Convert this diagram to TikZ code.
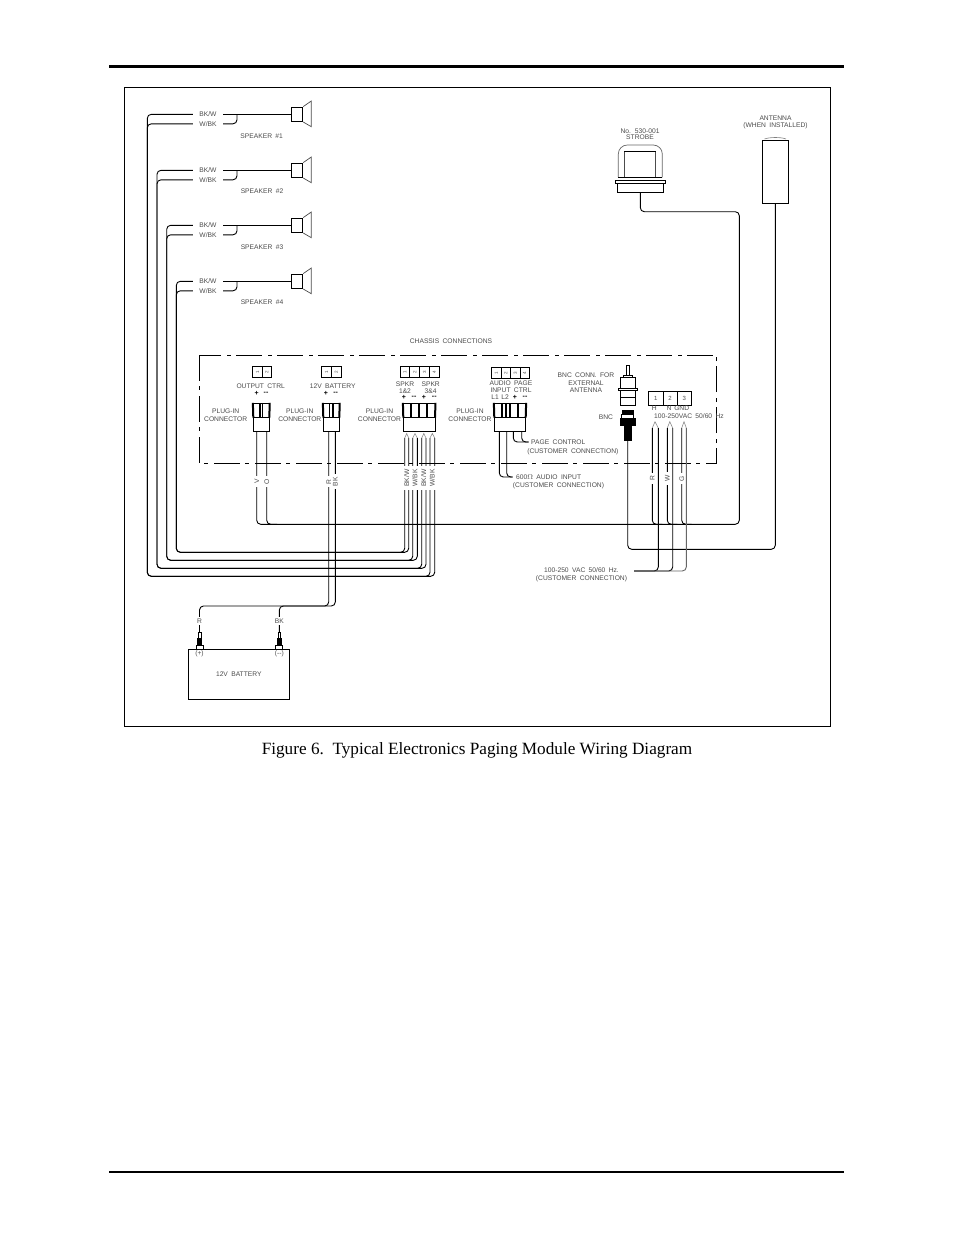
\documentclass[tikz,border=0pt]{standalone}
\usepackage{fontspec}
\setmainfont{Liberation Serif}
\newfontfamily\cadfont[WordSpace=1.8]{Liberation Sans}

\tikzset{
wire/.style={line width=0.9pt, black, rounded corners=4pt},
thinwire/.style={line width=0.6pt, black!45},
tag/.style={font=\cadfont\fontsize{6.7}{8}\selectfont, text=black!70, inner sep=0pt, align=center},
tagwire/.style={tag, fill=white, rotate=90, inner xsep=3pt, inner ysep=1.2pt},
sign/.style={font=\cadfont\bfseries\fontsize{7}{8}\selectfont, inner sep=0pt},
cell/.style={draw, line width=0.8pt, inner sep=0pt, font=\cadfont\fontsize{4.5}{5}\selectfont, text=black!70},
plug/.style={draw, line width=0.9pt, inner sep=0pt},
solid block/.style={draw, fill=black, inner sep=0pt},
box/.style={draw, line width=0.9pt, inner sep=0pt}
}

\begin{document}
\begin{tikzpicture}[x=1pt, y=-1pt]
\useasboundingbox[fill=white] (0,0) rectangle (954,1235);

% page rules and frame
\coordinate (rule-a) at (109,66.5);
\coordinate (rule-b) at (844,66.5);
\coordinate (rule-c) at (109,1172);
\coordinate (rule-d) at (844,1172);
\draw[line width=2.2pt] (rule-a) -- (rule-b);
\draw[line width=1.8pt] (rule-c) -- (rule-d);
\draw[line width=0.9pt] (124,87) rectangle (830,726);
\node[inner sep=0pt, font=\fontsize{17.2}{19}\selectfont] (caption) at (477,750.5) {Figure 6.\ \ Typical Electronics Paging Module Wiring Diagram};

% chassis
\draw[line width=0.9pt, dash pattern=on 26pt off 5pt on 4pt off 6pt] (199.3,355) rectangle (716.7,463.3);
\node[tag] (chassis) at (451,341) {CHASSIS CONNECTIONS};

% spkr wires legs
\foreach \n/\lx in {1/404.7,2/408.7,3/412.7,4/417.3,5/421.7,6/426,7/430,8/434.7}
  \coordinate (leg\n) at (\lx,438);
\foreach \n/\lx in {1/406.7,2/415,3/423.8,4/432.3}
  \coordinate (apex\n) at (\lx,433.5);

% speakers
\foreach \i/\sy/\vx/\by/\la/\lb in {1/114.3/147.3/576.3/7/8, 2/170.3/157/568.3/5/6, 3/225.3/166.7/560.3/3/4, 4/281.3/176.3/552.3/1/2}{
  \node[tag, minimum width=30pt] (bkw\i) at (208,\sy) {BK/W};
  \node[tag, minimum width=30pt] (wbk\i) at (208,\sy+9.5) {W/BK};
  \node[box, minimum width=11.5pt, minimum height=14.5pt] (spk\i) at (297,\sy) {};
  \draw[line width=0.7pt, black!70] (spk\i.north east) -- (311.3,\sy-13.3) -- (311.3,\sy+12.4) -- (spk\i.south east);
  \coordinate (join\i) at (237,\sy);
  \draw[wire] (bkw\i.east) -- (spk\i.west);
  \draw[wire] (wbk\i.east) -| (join\i);
  \draw[wire] (bkw\i.west) -| (\vx,\by) -| (leg\la);
  \draw[wire] (wbk\i.west) -| (\vx,\by) -| (leg\lb);
}
\node[tag] (spk-a) at (261.7,136) {SPEAKER \#1};
\node[tag] (spk-b) at (262,191.3) {SPEAKER \#2};
\node[tag] (spk-c) at (262,246.7) {SPEAKER \#3};
\node[tag] (spk-d) at (262,302.3) {SPEAKER \#4};

\foreach \k/\a/\b in {1/1/2,2/3/4,3/5/6,4/7/8}
  \draw[thinwire] (leg\a) -- (apex\k) -- (leg\b);

% terminal strips
\foreach \n/\cx in {1/257.5,2/266.8}
  \node[cell, minimum width=9.5pt, minimum height=10.6pt] (tb-out\n) at (\cx,372) {\rotatebox{90}{\n}};
\foreach \n/\cx in {1/326.5,2/336.2}
  \node[cell, minimum width=9.7pt, minimum height=10.6pt] (tb-bat\n) at (\cx,372) {\rotatebox{90}{\n}};
\foreach \n/\cx in {1/404.9,2/414.7,3/424.5,4/434.4}
  \node[cell, minimum width=9.8pt, minimum height=10.6pt] (tb-spk\n) at (\cx,372) {\rotatebox{90}{\n}};
\foreach \n/\cx in {1/496.4,2/505.8,3/515.2,4/524.6}
  \node[cell, minimum width=9.4pt, minimum height=11pt] (tb-aud\n) at (\cx,372.8) {\rotatebox{90}{\n}};
\foreach \n/\cx in {1/655.8,2/670,3/684.2}
  \node[cell, minimum width=14.2pt, minimum height=14.7pt, font=\cadfont\fontsize{6}{7}\selectfont] (tb-ac\n) at (\cx,398.3) {\n};

\node[tag] (out-txt) at (260.7,386) {OUTPUT CTRL};
\node[tag] (bat-txt) at (332.7,386) {12V BATTERY};
\node[tag] (spk-txt1) at (405,387.5) {SPKR\\[-1pt]1\&2};
\node[tag] (spk-txt2) at (430.7,387.5) {SPKR\\[-1pt]3\&4};
\node[tag] (aud-txt) at (511,386.5) {AUDIO PAGE\\[-1pt]INPUT CTRL};
\foreach \n/\cx/\cy/\s in {a/256.7/393/+,b/266/393/--,c/326/393/+,d/335.7/393/--,e/404/397.7/+,f/414/397.7/--,g/424/397.7/+,h/434.3/397.7/--,i/515/397.5/+,j/525/397.5/--}
  \node[sign] (sign-\n) at (\cx,\cy) {\s};
\node[tag] (aud-l1) at (495,397.3) {L1};
\node[tag] (aud-l2) at (505,397.3) {L2};

\node[tag] (plug-a) at (225.7,415) {PLUG-IN\\CONNECTOR};
\node[tag] (plug-b) at (299.8,415) {PLUG-IN\\CONNECTOR};
\node[tag] (plug-c) at (379.5,415) {PLUG-IN\\CONNECTOR};
\node[tag] (plug-d) at (470,415) {PLUG-IN\\CONNECTOR};

% plug-in connectors
\node[plug, minimum width=16pt, minimum height=28pt] (conn-out) at (261.3,417.3) {};
\node[plug, minimum width=16pt, minimum height=28pt] (conn-bat) at (331.3,417.3) {};
\node[plug, minimum width=31.7pt, minimum height=28pt] (conn-spk) at (419.2,417.3) {};
\node[plug, minimum width=31.4pt, minimum height=28pt] (conn-aud) at (510,417.3) {};
\draw[line width=0.9pt] (253.3,417.7) -- (269.3,417.7);
\draw[line width=0.9pt] (323.3,417.7) -- (339.3,417.7);
\draw[line width=0.9pt] (403.3,417.7) -- (435,417.7);
\draw[line width=0.9pt] (494.3,417.7) -- (525.7,417.7);
\draw[line width=2pt] (conn-out.north west) -- (253.3,417.7);
\draw[line width=2pt] (conn-out.north east) -- (269.3,417.7);
\draw[line width=2pt] (conn-bat.north west) -- (323.3,417.7);
\draw[line width=2pt] (conn-bat.north east) -- (339.3,417.7);
\draw[line width=2pt] (conn-spk.north west) -- (403.3,417.7);
\draw[line width=2pt] (conn-spk.north east) -- (435,417.7);
\draw[line width=2pt] (conn-aud.north west) -- (494.3,417.7);
\draw[line width=2pt] (conn-aud.north east) -- (525.7,417.7);
\foreach \dx in {260,262.5,329.5,333,411,419,427,502,506,510,518}
  \draw[line width=1.2pt] (\dx,403.3) -- (\dx,417.7);

% strobe
\node[tag] (strobe-txt) at (640,134.2) {No. 530-001\\[-1.5pt]STROBE};
\node[box, minimum width=46pt, minimum height=9pt] (strobe) at (640.3,187.8) {};
\node[box, minimum width=50.7pt, minimum height=2.4pt] (strobe-rim) at (640.3,182.1) {};
\draw[line width=0.7pt, black!60, rounded corners=9pt] (618.3,177.3) -- (618.3,145) -- (662.3,145) -- (662.3,177.3);
\draw[line width=0.7pt, black!70] (624.3,177.3) -- (624.3,151);
\draw[line width=0.7pt, black!70] (655.7,177.3) -- (655.7,151);
\draw[line width=0.9pt] (624.3,151) -- (655.7,151);
\draw[line width=0.9pt] (618.3,177.3) -- (662.3,177.3);

% antenna
\node[tag] (ant-txt) at (775.5,122.5) {ANTENNA\\[-1.5pt](WHEN INSTALLED)};
\node[box, minimum width=26pt, minimum height=63.3pt] (ant) at (775.3,171.6) {};
\draw[line width=0.6pt, black!50] (764.5,139) .. controls (770,137) and (781,137) .. (786,139);

% bnc
\node[tag] (bnc-conn) at (586,382.7) {BNC CONN. FOR\\[-0.5pt]EXTERNAL\\[-0.5pt]ANTENNA};
\node[tag] (bnc-txt) at (606,417.3) {BNC};
\node[box, minimum width=2.6pt, minimum height=10pt] (bnc-pin) at (628,370) {};
\node[box, minimum width=9pt, minimum height=2.5pt] (bnc-neck) at (627.7,376.5) {};
\node[box, minimum width=14.3pt, minimum height=10.6pt] (bnc-top) at (627.8,383) {};
\node[box, minimum width=19pt, minimum height=2pt] (bnc-rim) at (627.8,389.3) {};
\node[box, minimum width=15pt, minimum height=7.4pt] (bnc-mid) at (627.5,394) {};
\node[box, minimum width=15pt, minimum height=7.3pt] (bnc-low) at (627.5,401.4) {};
\node[solid block, minimum width=11.5pt, minimum height=4.3pt] (bnc-cap) at (627.5,412.2) {};
\node[box, minimum width=11.5pt, minimum height=4pt] (bnc-ring) at (627.5,416.4) {};
\node[solid block, minimum width=14.5pt, minimum height=6.7pt] (bnc-nut) at (627.5,421.7) {};
\node[solid block, minimum width=7.7pt, minimum height=15pt] (bnc-tail) at (627.7,432.5) {};

% long runs
\coordinate (ant-low) at (775.3,549.3);
\coordinate (strobe-turn) at (739.3,211.7);
\coordinate (out-turn) at (256.7,524.3);
\coordinate (out-leg) at (266.7,431.3);
\coordinate (out-end) at (277,524.3);
\draw[wire] (bnc-tail.south) |- (ant-low) -- (ant.south);
\draw[wire] (strobe.south) |- (strobe-turn) |- (out-turn) -- (256.7,431.3);
\draw[wire] (out-leg) |- (out-end);

% output and battery leads
\node[tagwire] (lbl-v) at (256.7,481.7) {V};
\node[tagwire] (lbl-o) at (266.7,481.7) {O};

% ac wires
\foreach \k/\ax/\lx/\rx/\t in {1/655/652.3/658.3/R,2/669.8/667.3/672.7/W,3/684/681.7/686.3/G}{
  \coordinate (ac-apex\k) at (\ax,421.7);
  \coordinate (ac-l\k) at (\lx,428);
  \coordinate (ac-r\k) at (\rx,428);
  \draw[thinwire] (ac-l\k) -- (ac-apex\k) -- (ac-r\k);
  \coordinate (ac-end\k) at (\lx+10,524.3);
  \draw[wire] (ac-l\k) |- (ac-end\k);
  \node[tagwire] (ac-t\k) at (\lx,478.5) {\t};
}
\coordinate (ac-feed) at (634,571);
\draw[wire] (ac-r1) |- (ac-feed);
\draw[wire] (ac-r2) |- (ac-feed);
\draw[wire, black!60] (ac-r3) |- (ac-feed);
\node[tag] (ac-h) at (654.3,408.3) {H};
\node[tag] (ac-n) at (669,408.3) {N};
\node[tag] (ac-g) at (681.7,408.3) {GND};
\node[tag] (ac-v) at (689,416.2) {100-250VAC 50/60 Hz};
\node[tag] (ac-cust) at (581.5,575) {100-250 VAC 50/60 Hz.\\[-0.5pt](CUSTOMER CONNECTION)};

% audio and page
\coordinate (aud-a) at (499.3,431.3);
\coordinate (aud-b) at (506.7,431.3);
\coordinate (aud-c) at (513.3,431.3);
\coordinate (aud-d) at (521.7,431.3);
\coordinate (aud-out) at (512.5,477);
\coordinate (page-out) at (528.5,442);
\draw[wire] (aud-a) |- (aud-out);
\draw[wire] (aud-b) |- (aud-out);
\draw[wire] (aud-c) |- (page-out);
\draw[wire] (aud-d) |- (page-out);
\node[tag, anchor=west] (page-txt) at (531,442) {PAGE CONTROL};
\node[tag] (page-cust) at (572.8,452) {(CUSTOMER CONNECTION)};
\node[tag, anchor=west] (aud-txt2) at (516,476.7) {600\(\Omega\) AUDIO INPUT};
\node[tag] (aud-cust) at (558.5,486) {(CUSTOMER CONNECTION)};

% battery
\node[box, minimum width=101pt, minimum height=50pt, tag, draw, text=black!70] (bat) at (238.8,674.3) {12V BATTERY};
\node[box, minimum width=7.3pt, minimum height=4pt] (term-a) at (199.7,647.3) {};
\node[box, minimum width=7.3pt, minimum height=4pt] (term-b) at (279,647.3) {};
\node[tag] (term-a-t) at (199.5,653.5) {(+)};
\node[tag] (term-b-t) at (279.3,653.5) {(--)};
\node[solid block, minimum width=4pt, minimum height=6pt] (clip-a) at (199.5,641.5) {};
\node[solid block, minimum width=4pt, minimum height=6pt] (clip-b) at (279.3,641.5) {};
\node[box, line width=0.6pt, minimum width=2.7pt, minimum height=6pt] (lug-a) at (199.5,635.5) {};
\node[box, line width=0.6pt, minimum width=2.7pt, minimum height=6pt] (lug-b) at (279.3,635.5) {};
\coordinate (bat-a) at (328.7,431.3);
\coordinate (bat-b) at (335.3,431.3);
\coordinate (bat-turn) at (335.3,606);
\coordinate (bat-mid) at (279.3,606);
\draw[wire] (bat-b) -- (bat-turn) -| (lug-a.north);
\draw[wire] (bat-a) |- (bat-mid) -- (lug-b.north);
\node[tagwire] (lbl-r) at (328.7,481.7) {R};
\node[tagwire] (lbl-bk) at (335.3,481.7) {BK};
\node[tag, fill=white, inner xsep=1pt, inner ysep=1.5pt] (lbl-br) at (199.5,621) {R};
\node[tag, fill=white, inner xsep=1pt, inner ysep=1.5pt] (lbl-bb) at (279.3,621) {BK};

% speaker lead labels
\node[tagwire] (lbl-s1) at (406.7,478) {BK/W};
\node[tagwire] (lbl-s2) at (415,478) {W/BK};
\node[tagwire] (lbl-s3) at (423.8,478) {BK/W};
\node[tagwire] (lbl-s4) at (432.3,478) {W/BK};
\end{tikzpicture}
\end{document}
